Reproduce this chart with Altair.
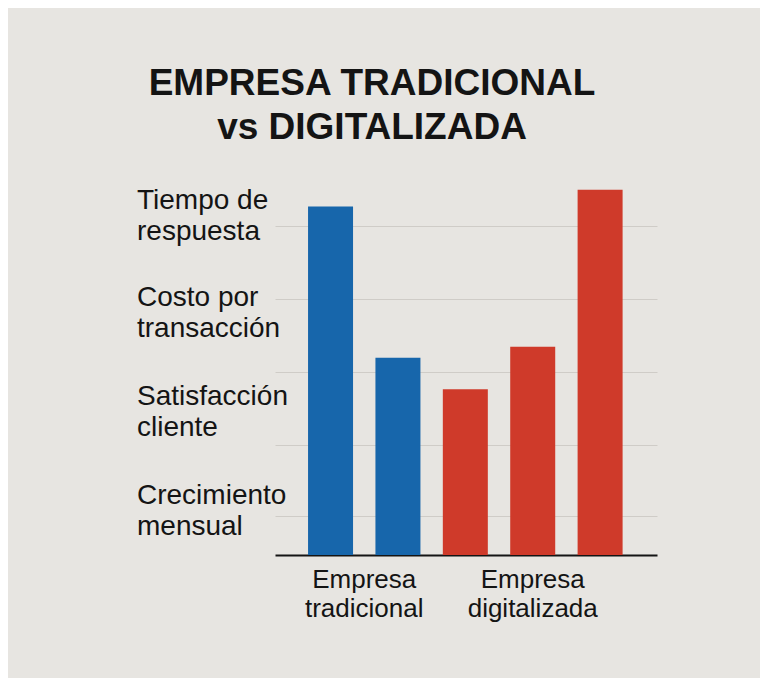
import altair as alt
import pandas as pd

# ---- data ----
bar_ids = ["t1", "t2", "d1", "d2", "d3"]
bar_order = [0, 1, 2, 3, 4]
bar_groups = ["Empresa tradicional", "Empresa tradicional",
              "Empresa digitalizada", "Empresa digitalizada", "Empresa digitalizada"]
bar_values = [4.77, 2.70, 2.27, 2.85, 5.0]

group_names = ["Empresa tradicional", "Empresa digitalizada"]
group_labels = ["Empresa\ntradicional", "Empresa\ndigitalizada"]

y_labels = ["Tiempo de\nrespuesta", "Costo por\ntransacción",
            "Satisfacción\ncliente", "Crecimiento\nmensual"]
y_label_levels = [4.84, 3.52, 2.16, 0.81]
grid_levels = [0.53, 1.5, 2.5, 3.5, 4.5]

title_lines = ["EMPRESA TRADICIONAL", "vs DIGITALIZADA"]

FONT = "Liberation Sans"
INK = "#141414"
W, H = 382, 385

bars_df = pd.DataFrame({"id": bar_ids, "idx": bar_order,
                        "grupo": bar_groups, "valor": bar_values})
ylab_df = pd.DataFrame({"label": y_labels, "level": y_label_levels})
glab_df = pd.DataFrame({"grupo": bar_groups, "idx": bar_order})
glab_map = dict(zip(group_names, group_labels))
glab_df["label"] = glab_df["grupo"].map(glab_map)

x_scale = alt.Scale(domain=[-0.75, 4.77], nice=False, zero=False)
y_scale = alt.Scale(domain=[0, 5.27], nice=False)

bars = alt.Chart(bars_df).mark_bar(size=45).encode(
    x=alt.X("idx:Q", scale=x_scale,
            axis=alt.Axis(labels=False, ticks=False, grid=False, title=None,
                          domain=True, domainColor=INK, domainWidth=2)),
    y=alt.Y("valor:Q", scale=y_scale,
            axis=alt.Axis(values=grid_levels, labels=False, ticks=False,
                          domain=False, grid=True, gridColor="#cfccc7",
                          gridWidth=1, title=None)),
    color=alt.Color("grupo:N", legend=None,
                    scale=alt.Scale(domain=group_names,
                                    range=["#1766ab", "#cf3a2a"])),
)

ylabels = alt.Chart(ylab_df).mark_text(
    align="left", baseline="middle", lineBreak="\n", font=FONT,
    fontSize=28, lineHeight=31, color=INK
).encode(
    x=alt.value(-138),
    y=alt.Y("level:Q", scale=y_scale),
    text="label:N",
)

glabels = alt.Chart(glab_df).transform_aggregate(
    center="mean(idx)", groupby=["label"]
).mark_text(
    align="center", baseline="top", lineBreak="\n", font=FONT,
    fontSize=26, lineHeight=29, color=INK
).encode(
    x=alt.X("center:Q", scale=x_scale),
    y=alt.value(H + 12),
    text="label:N",
)

chart = alt.layer(bars, ylabels, glabels).properties(
    width=W, height=H,
    title=alt.TitleParams(text=title_lines, font=FONT, fontSize=37,
                          fontWeight="bold", color=INK, anchor="middle",
                          dx=-94, offset=23, lineHeight=44),
    autosize=alt.AutoSizeParams(type="none"),
    padding={"left": 267, "top": 162, "right": 103, "bottom": 123},
    background="#e7e5e1",
).configure_view(stroke=None)

chart.save("out.html", embed_options={"renderer": "svg", "actions": False})
